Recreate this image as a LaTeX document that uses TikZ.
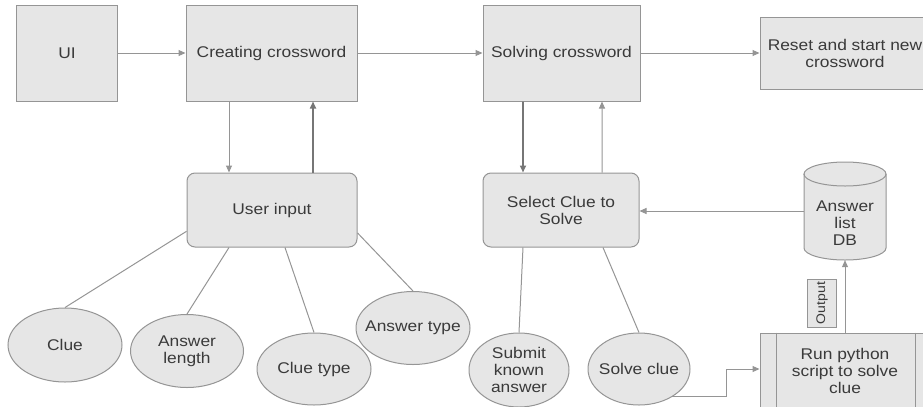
\documentclass[tikz,border=0pt]{standalone}
\usepackage{fontspec}
\setmainfont{Liberation Sans}[FakeStretch=1.12]
\usetikzlibrary{arrows.meta,shapes.geometric}
\definecolor{edge}{HTML}{959595}
\definecolor{edgedark}{HTML}{767676}
\definecolor{boxfill}{HTML}{E6E6E6}
\definecolor{txt}{HTML}{3A3A3A}
\begin{document}
\begin{tikzpicture}[x=1bp,y=-1bp,
  every node/.style={font=\fontsize{15.5bp}{17bp}\selectfont, text=txt},
  box/.style={draw=edge, fill=boxfill, line width=1bp, align=center, inner sep=2bp},
  blk/.style={box, rectangle},
  rbox/.style={box, rectangle, rounded corners=8bp},
  oval/.style={box, ellipse, inner xsep=-8bp, inner ysep=0bp},
  link/.style={draw=edge, line width=1bp},
  arr/.style={link, -{Triangle[length=7bp,width=6bp]}},
  heavy/.style={line width=1.6bp, draw=edgedark}]
\useasboundingbox (0,0) rectangle (923,406);
\clip (0,0) rectangle (923,406);

% top row of process boxes
\node[blk, minimum width=100bp, minimum height=96bp] (ui) at (67,53) {UI};
\node[blk, minimum width=171bp, minimum height=96bp] (create) at (271.5,53) {Creating crossword};
\node[blk, minimum width=157bp, minimum height=96bp] (solve) at (561.5,53) {Solving crossword};
\node[blk, minimum width=170bp, minimum height=72bp] (reset) at (845,53) {Reset and start new\\crossword};

% second row
\node[rbox, minimum width=170bp, minimum height=74bp] (user) at (272,210) {User input};
\node[rbox, minimum width=156bp, minimum height=74bp] (sel) at (561,210) {Select Clue to\\Solve};

% answer database (cylinder drawn by hand around a text node)
\node[minimum width=82bp, minimum height=98bp, inner sep=0] (db) at (845,211) {};
\path[draw=edge, fill=boxfill, line width=1bp]
  (804,174) -- (804,248) arc[start angle=180, end angle=360, x radius=41bp, y radius=12bp]
  -- (886,174) arc[start angle=0, end angle=180, x radius=41bp, y radius=12bp] -- cycle;
\draw[link] (804,174) arc[start angle=180, end angle=360, x radius=41bp, y radius=12bp];
\node[align=center, inner sep=0] (dbtext) at (845,223) {Answer\\list\\DB};

% input fields
\node[oval, minimum width=114bp, minimum height=74bp] (clue) at (65,345) {Clue};
\node[oval, minimum width=113bp, minimum height=73bp] (alen) at (187,351) {Answer\\length};
\node[oval, minimum width=114bp, minimum height=72bp] (ctype) at (314,369) {Clue type};
\node[oval, minimum width=114bp, minimum height=73bp] (atype) at (413,328) {Answer type};

% solving options
\node[oval, minimum width=100bp, minimum height=74bp] (submit) at (519,370) {Submit\\known\\answer};
\node[oval, minimum width=102bp, minimum height=72bp] (sc) at (639,369) {Solve clue};

% predefined process: python solver
\node[blk, minimum width=170bp, minimum height=75bp] (run) at (845,370.5) {Run python\\script to solve\\clue};
\draw[link] ([xshift=17bp]run.north west) -- ([xshift=17bp]run.south west);
\draw[link] ([xshift=-15bp]run.north east) -- ([xshift=-15bp]run.south east);

% label beside the output arrow
\node[draw=edge, fill=boxfill, line width=1bp, rotate=90, inner sep=1bp,
      minimum width=48bp, minimum height=29bp,
      font=\fontsize{12.5bp}{14bp}\selectfont] (outlbl) at (822,303) {Output};

% main flow
\draw[arr] (ui.east) -- (create.west);
\draw[arr] (create.east) -- (solve.west);
\draw[arr] (solve.east) -- (reset.west);

% create <-> user input
\draw[arr] ([xshift=-42.5bp]create.south) -- ([xshift=-43bp]user.north);
\draw[arr, heavy] ([xshift=41bp]user.north) -- ([xshift=41.5bp]create.south);

% solve <-> select clue
\draw[arr, heavy] ([xshift=-38.5bp]solve.south) -- ([xshift=-38bp]sel.north);
\draw[arr] ([xshift=41bp]sel.north) -- ([xshift=40.5bp]solve.south);

% database feeds the clue selection
\draw[arr] (db.west) -- (db.west -| sel.east);

% user input fields
\draw[link] (user.194) -- (clue.north);
\draw[link] ([xshift=-43bp]user.south) -- (alen.north);
\draw[link] ([xshift=13bp]user.south) -- (ctype.north);
\draw[link] (user.-15) -- (atype.north);

% solving options
\draw[link] ([xshift=-38bp]sel.south) -- (submit.north);
\draw[link] ([xshift=42bp]sel.south) -- (sc.north);

% solve clue -> python script -> database
\coordinate (elbow) at (726,369);
\draw[arr] (sc.-40) -| (elbow) -- (elbow -| run.west);
\draw[arr] (run.north) -- (db.south);
\end{tikzpicture}
\end{document}
